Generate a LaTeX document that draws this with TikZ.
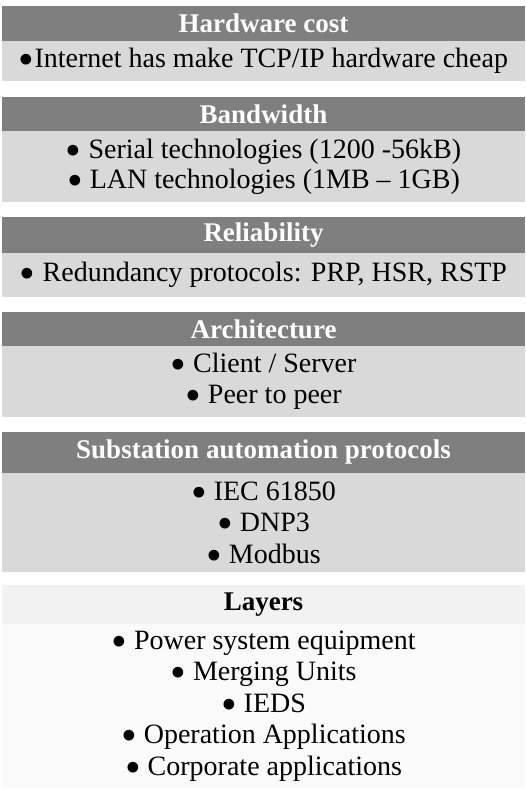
\documentclass[tikz,border=0pt]{standalone}
\usepackage{fontspec}
\usepackage{graphicx}
\setmainfont{Liberation Serif}
\definecolor{hdrgray}{HTML}{7F7F7F}
\definecolor{bodygray}{HTML}{D9D9D9}
\definecolor{lhdr}{HTML}{F2F2F2}
\definecolor{lbody}{HTML}{FAFAFA}
\newcommand{\bul}{\smash{\raisebox{-7pt}{\scalebox{1.6}{\textbullet}}}}
\begin{document}
\begin{tikzpicture}[x=1pt,y=-1pt,
  base/.style={inner sep=0pt, outer sep=0pt, minimum width=523pt, anchor=north west, align=center},
  hdr/.style={base, fill=hdrgray, text=white, font=\fontsize{27}{31}\selectfont\bfseries},
  bdy/.style={base, fill=bodygray, font=\fontsize{28}{31}\selectfont},
  lhd/.style={base, fill=lhdr, font=\fontsize{27}{31}\selectfont\bfseries},
  lbd/.style={base, fill=lbody, font=\fontsize{28}{31}\selectfont}]
\useasboundingbox (0,0) rectangle (525,791);
\node[hdr, minimum height=35pt] (h1) at (2,6) {Hardware cost};
\node[bdy, minimum height=40pt] (b1) at (2,41) {\bul Internet has make TCP/IP hardware cheap};
\node[hdr, minimum height=34pt] (h2) at (2,97) {Bandwidth};
\node[bdy, minimum height=71pt, font=\fontsize{28}{30}\selectfont] (b2) at (2,131) {\bul{} Serial technologies (1200 -56kB)\\ \bul{} LAN technologies (1MB – 1GB)};
\node[hdr, minimum height=36pt] (h3) at (2,217) {Reliability};
\node[bdy, minimum height=44pt] (b3) at (2,253) {\bul{} Redundancy protocols: PRP, HSR, RSTP};
\node[hdr, minimum height=34pt] (h4) at (2,312) {Architecture};
\node[bdy, minimum height=71pt, font=\fontsize{28}{30.5}\selectfont] (b4) at (2,346) {\bul{} Client / Server\\ \bul{} Peer to peer};
\node[hdr, minimum height=41pt] (h5) at (2,432) {Substation automation protocols};
\node[bdy, minimum height=99pt, font=\fontsize{28}{31.5}\selectfont] (b5) at (2,473) {\bul{} IEC 61850\\ \bul{} DNP3\\ \bul{} Modbus};
\node[lhd, minimum height=39pt] (h6) at (2,585) {Layers};
\node[lbd, minimum height=164pt, font=\fontsize{28}{31.5}\selectfont] (b6) at (2,624) {\bul{} Power system equipment\\ \bul{} Merging Units\\ \bul{} IEDS\\ \bul{} Operation Applications\\ \bul{} Corporate applications};
\end{tikzpicture}
\end{document}
